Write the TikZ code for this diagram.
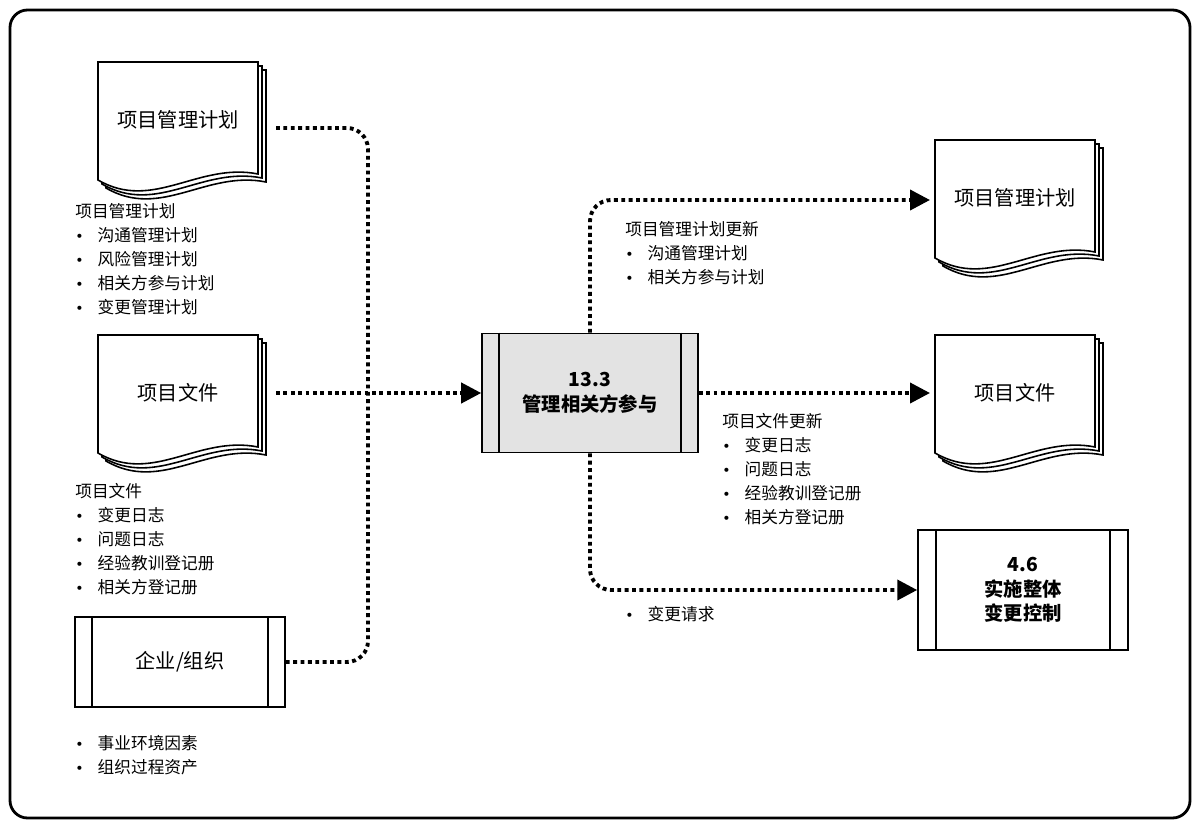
\documentclass[tikz,border=0pt]{standalone}
\usepackage{fontspec}
\setmainfont{Noto Sans CJK SC}
\newfontfamily\bulletfont{DejaVu Sans}
\usetikzlibrary{arrows.meta, positioning, calc}

\newcommand{\bul}{{\bulletfont\fontsize{8}{8}\selectfont •}\hspace{8pt}}
% paper stack: #1 name, #2 top-left corner, #3 text
\newcommand{\paperstack}[3]{%
  \foreach \d in {8,4,0}{
    \draw[line width=0.9pt, fill=white, shift={($(#2)+(\d,\d)$)}]
      (0,0) -- (0,118) .. controls (55,150) and (100,100) .. (160,112) -- (160,0) -- cycle;
  }
  \node[doctext] (#1) at ($(#2)+(80,58)$) {#3};
}

\begin{document}
\begin{tikzpicture}[
    x=0.02cm, y=-0.02cm,
    doctext/.style={font=\fontsize{11.5}{13}\selectfont, align=center},
    proc/.style={rectangle, draw, line width=0.9pt, minimum width=4.2cm, minimum height=2.4cm, align=center, font=\fontsize{11}{14}\selectfont\bfseries},
    note/.style={anchor=north west, align=left, inner sep=0pt, font=\fontsize{9.5}{13.6}\selectfont},
    flow/.style={line width=2.2pt, dotted, rounded corners=12pt},
    arrow/.style={flow, -{Triangle[length=4mm, width=4mm]}}
]
    \useasboundingbox (0,0) rectangle (1202,828);
    \draw[line width=1.6pt, rounded corners=10pt] (10,10) rectangle (1190,818);

    % inputs
    \coordinate (p1) at (98,62);
    \paperstack{plan}{p1}{项目管理计划}
    \coordinate (p2) at (98,335);
    \paperstack{docs}{p2}{项目文件}
    \node[proc, minimum width=4.2cm, minimum height=1.8cm, font=\fontsize{11.5}{14}\selectfont] (org) at (180,662) {企业/组织};
    \draw[line width=0.9pt] ([xshift=0.36cm]org.north west) -- ([xshift=0.36cm]org.south west)
        ([xshift=-0.36cm]org.north east) -- ([xshift=-0.36cm]org.south east);

    % process
    \node[proc, fill=gray!22, minimum width=4.32cm, minimum height=2.38cm] (mgmt) at (590,393) {13.3\\管理相关方参与};
    \draw[line width=0.9pt] ([xshift=0.36cm]mgmt.north west) -- ([xshift=0.36cm]mgmt.south west)
        ([xshift=-0.36cm]mgmt.north east) -- ([xshift=-0.36cm]mgmt.south east);

    % outputs
    \coordinate (p3) at (935,140);
    \paperstack{planout}{p3}{项目管理计划}
    \coordinate (p4) at (935,335);
    \paperstack{docsout}{p4}{项目文件}
    \node[proc, minimum width=4.2cm, minimum height=2.4cm] (ctrl) at (1023,590) {4.6\\实施整体\\变更控制};
    \draw[line width=0.9pt] ([xshift=0.38cm]ctrl.north west) -- ([xshift=0.38cm]ctrl.south west)
        ([xshift=-0.38cm]ctrl.north east) -- ([xshift=-0.38cm]ctrl.south east);

    % connectors
    \coordinate (join) at (368,393);
    \coordinate (planR) at (276,128);
    \coordinate (docsR) at (276,393);
    \coordinate (planoutL) at (930,200);
    \coordinate (docsoutL) at (930,393);
    \draw[flow] (planR) -- (368,128) -- (join);
    \draw[flow] (org.east) -- (368,662) -- (join);
    \draw[arrow] (docsR) -- (mgmt.west);
    \draw[arrow] (mgmt.north) |- (planoutL);
    \draw[arrow] (mgmt.east) -- (docsoutL);
    \draw[arrow] (mgmt.south) |- (ctrl.west);

    % notes
    \node[note] (n1) at (75,203) {项目管理计划\\\bul 沟通管理计划\\\bul 风险管理计划\\\bul 相关方参与计划\\\bul 变更管理计划};
    \node[note] (n2) at (75,483) {项目文件\\\bul 变更日志\\\bul 问题日志\\\bul 经验教训登记册\\\bul 相关方登记册};
    \node[note] (n3) at (75,735) {\bul 事业环境因素\\\bul 组织过程资产};
    \node[note] (n4) at (625,221) {项目管理计划更新\\\bul 沟通管理计划\\\bul 相关方参与计划};
    \node[note] (n5) at (722,413) {项目文件更新\\\bul 变更日志\\\bul 问题日志\\\bul 经验教训登记册\\\bul 相关方登记册};
    \node[note] (n6) at (625,606) {\bul 变更请求};
\end{tikzpicture}
\end{document}
